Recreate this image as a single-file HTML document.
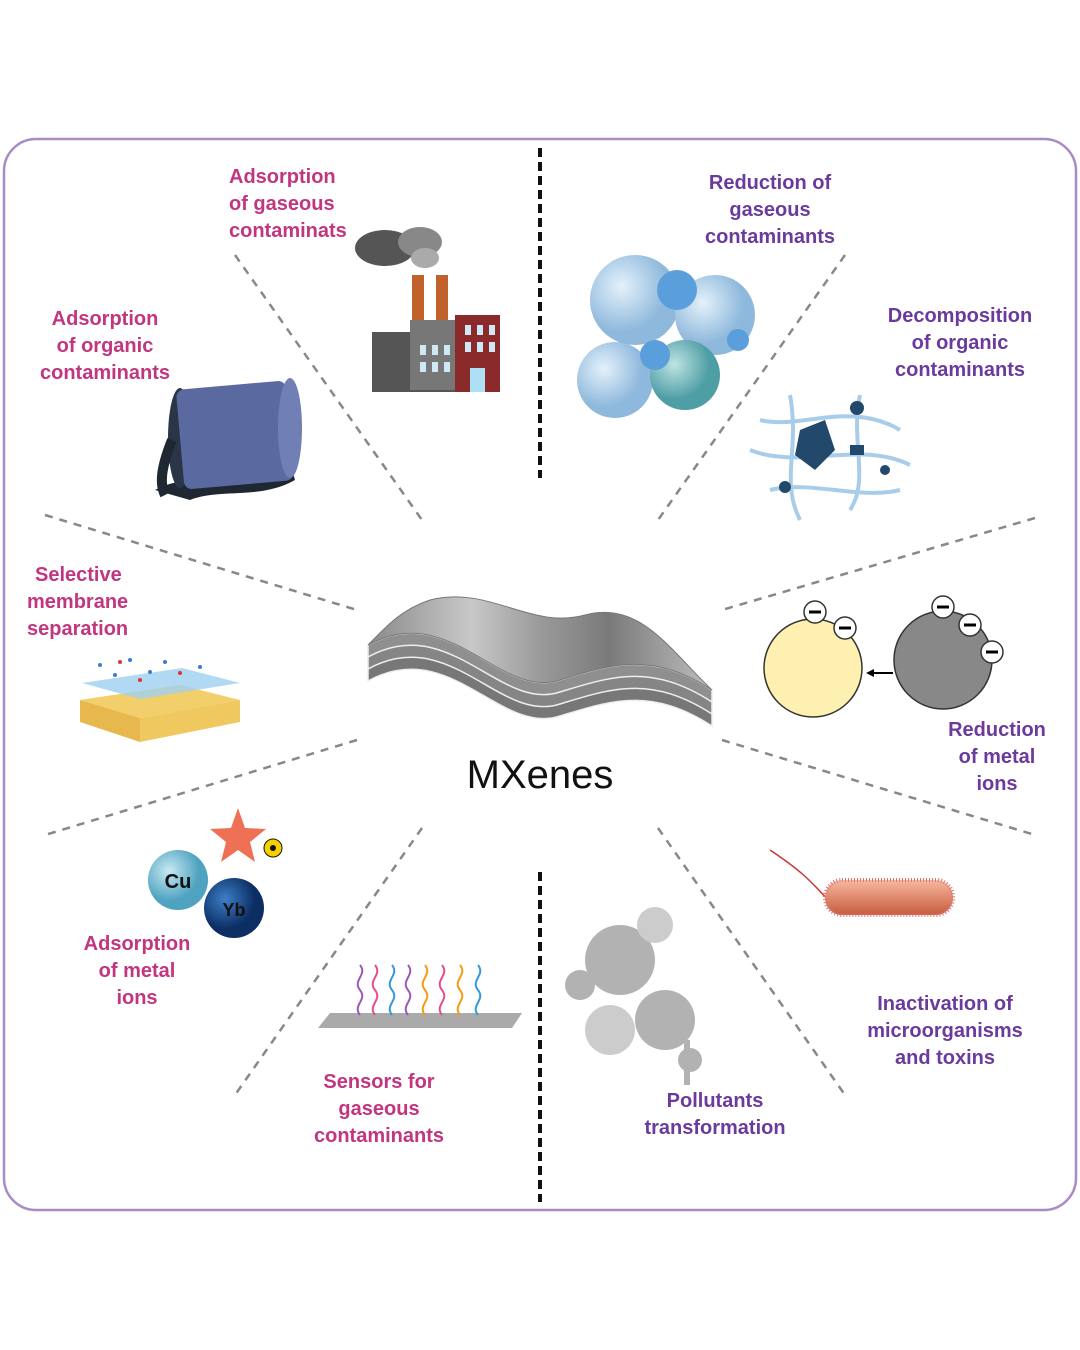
<!DOCTYPE html>
<html><head><meta charset="utf-8"><style>
body{margin:0;background:#fff;}
svg{display:block}
.p{fill:#c2357f;font-family:"Liberation Sans",sans-serif;font-weight:bold;font-size:20px}
.v{fill:#6b3a9c;font-family:"Liberation Sans",sans-serif;font-weight:bold;font-size:20px}
</style></head><body>
<svg width="1080" height="1350" viewBox="0 0 1080 1350">
<defs>
<radialGradient id="b1" cx="35%" cy="35%"><stop offset="0" stop-color="#e4f1fb"/><stop offset="1" stop-color="#8fb9dc"/></radialGradient>
<radialGradient id="b2" cx="35%" cy="35%"><stop offset="0" stop-color="#bfe3e3"/><stop offset="1" stop-color="#4e9ea5"/></radialGradient>
<radialGradient id="cu" cx="35%" cy="35%"><stop offset="0" stop-color="#c8eaf2"/><stop offset="1" stop-color="#4fa3c0"/></radialGradient>
<radialGradient id="yb" cx="35%" cy="35%"><stop offset="0" stop-color="#3d7fc8"/><stop offset="1" stop-color="#0c2e63"/></radialGradient>
<linearGradient id="bac" x1="0" y1="0" x2="0" y2="1"><stop offset="0" stop-color="#f7b9a0"/><stop offset="1" stop-color="#c75a3c"/></linearGradient>
<linearGradient id="sheet" x1="0" y1="0" x2="1" y2="0"><stop offset="0" stop-color="#8a8a8a"/><stop offset=".3" stop-color="#c8c8c8"/><stop offset=".5" stop-color="#9a9a9a"/><stop offset=".7" stop-color="#7a7a7a"/><stop offset="1" stop-color="#bdbdbd"/></linearGradient>
</defs>
<rect x="4" y="139" width="1072" height="1071" rx="32" fill="#fff" stroke="#a98bc6" stroke-width="2.5"/>
<g stroke="#111" stroke-width="4" stroke-dasharray="9,5">
<line x1="540" y1="148" x2="540" y2="478"/><line x1="540" y1="872" x2="540" y2="1202"/></g>
<g stroke="#888" stroke-width="2.5" stroke-dasharray="8,7">
<line x1="235" y1="255" x2="422" y2="520"/><line x1="845" y1="255" x2="658" y2="520"/>
<line x1="45" y1="515" x2="357" y2="610"/><line x1="1035" y1="518" x2="722" y2="610"/>
<line x1="357" y1="740" x2="45" y2="835"/><line x1="722" y1="740" x2="1035" y2="835"/>
<line x1="422" y1="828" x2="235" y2="1095"/><line x1="658" y1="828" x2="845" y2="1095"/></g>

<!-- MXene sheets -->
<g stroke="#eee" stroke-width="1.5">
<path d="M368 681 C450 636 500 736 560 716 C610 701 650 686 712 726 L712 694 C650 654 610 669 560 684 C500 704 450 604 368 649Z" fill="#777"/>
<path d="M368 669 C450 624 500 724 560 704 C610 689 650 674 712 714 L712 694 C650 654 610 669 560 684 C500 704 450 604 368 649Z" fill="#858585"/>
<path d="M368 657 C450 612 500 712 560 692 C610 677 650 662 712 702 L712 690 C650 650 610 665 560 680 C500 700 450 600 368 645Z" fill="#8f8f8f"/>
</g>
<path d="M368 645 C450 600 500 700 560 680 C610 665 650 650 712 690 C670 650 640 600 585 615 C530 630 490 585 430 600 C400 610 385 628 368 645Z" fill="url(#sheet)" stroke="#777"/>
<text x="540" y="788" text-anchor="middle" font-family="Liberation Sans,sans-serif" font-size="40" fill="#111">MXenes</text>

<!-- labels -->
<text class="p"><tspan x="229" y="183">Adsorption</tspan><tspan x="229" y="210">of gaseous</tspan><tspan x="229" y="237">contaminats</tspan></text>
<text class="p" text-anchor="middle"><tspan x="105" y="325">Adsorption</tspan><tspan x="105" y="352">of organic</tspan><tspan x="105" y="379">contaminants</tspan></text>
<text class="p"><tspan x="35" y="581">Selective</tspan><tspan x="27" y="608">membrane</tspan><tspan x="27" y="635">separation</tspan></text>
<text class="p" text-anchor="middle"><tspan x="137" y="950">Adsorption</tspan><tspan x="137" y="977">of metal</tspan><tspan x="137" y="1004">ions</tspan></text>
<text class="p" text-anchor="middle"><tspan x="379" y="1088">Sensors for</tspan><tspan x="379" y="1115">gaseous</tspan><tspan x="379" y="1142">contaminants</tspan></text>
<text class="v" text-anchor="middle"><tspan x="770" y="189">Reduction of</tspan><tspan x="770" y="216">gaseous</tspan><tspan x="770" y="243">contaminants</tspan></text>
<text class="v" text-anchor="middle"><tspan x="960" y="322">Decomposition</tspan><tspan x="960" y="349">of organic</tspan><tspan x="960" y="376">contaminants</tspan></text>
<text class="v" text-anchor="middle"><tspan x="997" y="736">Reduction</tspan><tspan x="997" y="763">of metal</tspan><tspan x="997" y="790">ions</tspan></text>
<text class="v" text-anchor="middle"><tspan x="945" y="1010">Inactivation of</tspan><tspan x="945" y="1037">microorganisms</tspan><tspan x="945" y="1064">and toxins</tspan></text>
<text class="v" text-anchor="middle"><tspan x="715" y="1107">Pollutants</tspan><tspan x="715" y="1134">transformation</tspan></text>

<!-- factory -->
<g><ellipse cx="385" cy="248" rx="30" ry="18" fill="#555"/><ellipse cx="420" cy="242" rx="22" ry="15" fill="#888"/><ellipse cx="425" cy="258" rx="14" ry="10" fill="#aaa"/>
<rect x="412" y="275" width="12" height="60" fill="#c0622a"/><rect x="436" y="275" width="12" height="60" fill="#c0622a"/>
<rect x="372" y="332" width="90" height="60" fill="#555"/><rect x="410" y="320" width="50" height="70" fill="#777"/>
<rect x="455" y="315" width="45" height="77" fill="#8b2a2a"/><rect x="470" y="368" width="15" height="24" fill="#aee0f5"/>
<g fill="#cfe8f5"><rect x="420" y="345" width="6" height="10"/><rect x="432" y="345" width="6" height="10"/><rect x="444" y="345" width="6" height="10"/><rect x="420" y="362" width="6" height="10"/><rect x="432" y="362" width="6" height="10"/><rect x="444" y="362" width="6" height="10"/><rect x="465" y="325" width="6" height="10"/><rect x="477" y="325" width="6" height="10"/><rect x="489" y="325" width="6" height="10"/><rect x="465" y="342" width="6" height="10"/><rect x="477" y="342" width="6" height="10"/><rect x="489" y="342" width="6" height="10"/></g></g>

<!-- barrel -->
<g><path d="M155 490 C190 470 250 488 290 462 L295 480 C260 500 220 488 190 500 Z" fill="#1f2733"/>
<ellipse cx="180" cy="438" rx="12" ry="50" fill="#2b3548"/>
<rect x="180" y="385" width="110" height="100" rx="8" fill="#5a6aa0" transform="rotate(-5 235 435)"/>
<ellipse cx="290" cy="428" rx="12" ry="50" fill="#7080b5"/>
<path d="M172 440 C160 470 160 485 165 495" stroke="#1f2733" stroke-width="10" fill="none"/></g>

<!-- bubbles -->
<g><circle cx="635" cy="300" r="45" fill="url(#b1)"/><circle cx="715" cy="315" r="40" fill="url(#b1)"/>
<circle cx="615" cy="380" r="38" fill="url(#b1)"/><circle cx="685" cy="375" r="35" fill="url(#b2)"/>
<circle cx="677" cy="290" r="20" fill="#5a9fdb"/><circle cx="655" cy="355" r="15" fill="#5a9fdb"/><circle cx="738" cy="340" r="11" fill="#5a9fdb"/></g>

<!-- decomposition web -->
<g fill="none" stroke="#a8cdea" stroke-width="4"><path d="M760 420 C800 430 850 400 900 430"/><path d="M750 450 C800 470 860 440 910 465"/><path d="M790 395 C800 450 780 480 800 520"/><path d="M860 395 C850 440 870 480 850 510"/><path d="M770 490 C810 480 860 500 900 490"/></g>
<g fill="#22496b"><path d="M800 430 L825 420 L835 450 L815 470 L795 455Z"/><circle cx="857" cy="408" r="7"/><rect x="850" y="445" width="14" height="10"/><circle cx="785" cy="487" r="6"/><circle cx="885" cy="470" r="5"/></g>

<!-- membrane -->
<g><path d="M80 700 L180 685 L240 700 L140 718Z" fill="#f2cf6a"/><path d="M80 700 L140 718 L140 742 L80 722Z" fill="#e6b84e"/><path d="M140 718 L240 700 L240 722 L140 742Z" fill="#f0c860"/>
<path d="M82 683 L182 668 L240 683 L140 699Z" fill="#9fd0f0" opacity=".8"/>
<g fill="#3a7bd5"><circle cx="100" cy="665" r="2"/><circle cx="130" cy="660" r="2"/><circle cx="165" cy="662" r="2"/><circle cx="200" cy="667" r="2"/><circle cx="115" cy="675" r="2"/><circle cx="150" cy="672" r="2"/></g>
<g fill="#d33"><circle cx="120" cy="662" r="2"/><circle cx="180" cy="673" r="2"/><circle cx="140" cy="680" r="2"/></g></g>

<!-- metal ion reduction -->
<g><circle cx="813" cy="668" r="49" fill="#fdf0b0" stroke="#333" stroke-width="1.5"/><circle cx="943" cy="660" r="49" fill="#888" stroke="#333" stroke-width="1.5"/>
<line x1="893" y1="673" x2="870" y2="673" stroke="#000" stroke-width="2"/><path d="M866 673 l8 -4 v8z"/>
<g fill="#fff" stroke="#333" stroke-width="1.5"><circle cx="815" cy="612" r="11"/><circle cx="845" cy="628" r="11"/><circle cx="943" cy="607" r="11"/><circle cx="970" cy="625" r="11"/><circle cx="992" cy="652" r="11"/></g>
<g stroke="#000" stroke-width="3"><line x1="809" y1="612" x2="821" y2="612"/><line x1="839" y1="628" x2="851" y2="628"/><line x1="937" y1="607" x2="949" y2="607"/><line x1="964" y1="625" x2="976" y2="625"/><line x1="986" y1="652" x2="998" y2="652"/></g></g>

<!-- Cu Yb -->
<g><path d="M238 808 L245 828 L266 829 L250 842 L255 862 L238 850 L221 862 L226 842 L210 829 L231 828Z" fill="#ee7055"/>
<circle cx="273" cy="848" r="9" fill="#f4d000" stroke="#111"/><circle cx="273" cy="848" r="3" fill="#111"/>
<circle cx="178" cy="880" r="30" fill="url(#cu)"/><circle cx="234" cy="908" r="30" fill="url(#yb)"/>
<text x="178" y="888" text-anchor="middle" font-family="Liberation Sans,sans-serif" font-weight="bold" font-size="20" fill="#111">Cu</text>
<text x="234" y="916" text-anchor="middle" font-family="Liberation Sans,sans-serif" font-weight="bold" font-size="18" fill="#111">Yb</text></g>

<!-- sensor -->
<g><path d="M318 1028 L330 1013 L522 1013 L512 1028Z" fill="#aaa"/>
<g fill="none" stroke-width="2"><path d="M360 1015 c-8-10 8-15 0-25 s8-15 0-25" stroke="#9b59b6"/><path d="M375 1015 c-8-10 8-15 0-25 s8-15 0-25" stroke="#e74c8c"/><path d="M392 1015 c-8-10 8-15 0-25 s8-15 0-25" stroke="#3498db"/><path d="M408 1015 c-8-10 8-15 0-25 s8-15 0-25" stroke="#9b59b6"/><path d="M425 1015 c-8-10 8-15 0-25 s8-15 0-25" stroke="#f39c12"/><path d="M442 1015 c-8-10 8-15 0-25 s8-15 0-25" stroke="#e74c8c"/><path d="M460 1015 c-8-10 8-15 0-25 s8-15 0-25" stroke="#f39c12"/><path d="M478 1015 c-8-10 8-15 0-25 s8-15 0-25" stroke="#3498db"/></g></g>

<!-- splash -->
<g fill="#999" opacity=".75"><circle cx="620" cy="960" r="35"/><circle cx="665" cy="1020" r="30"/><circle cx="580" cy="985" r="15"/><circle cx="655" cy="925" r="18" fill="#bbb"/><circle cx="610" cy="1030" r="25" fill="#bbb"/><circle cx="690" cy="1060" r="12"/><rect x="684" y="1040" width="6" height="45"/></g>

<!-- bacteria -->
<g><path d="M828 900 C810 880 800 870 770 850" stroke="#c33" stroke-width="1.5" fill="none"/>
<rect x="825" y="880" width="128" height="35" rx="17" fill="url(#bac)" stroke="#d77" stroke-dasharray="1,2" stroke-width="4"/></g>
</svg>
</body></html>
